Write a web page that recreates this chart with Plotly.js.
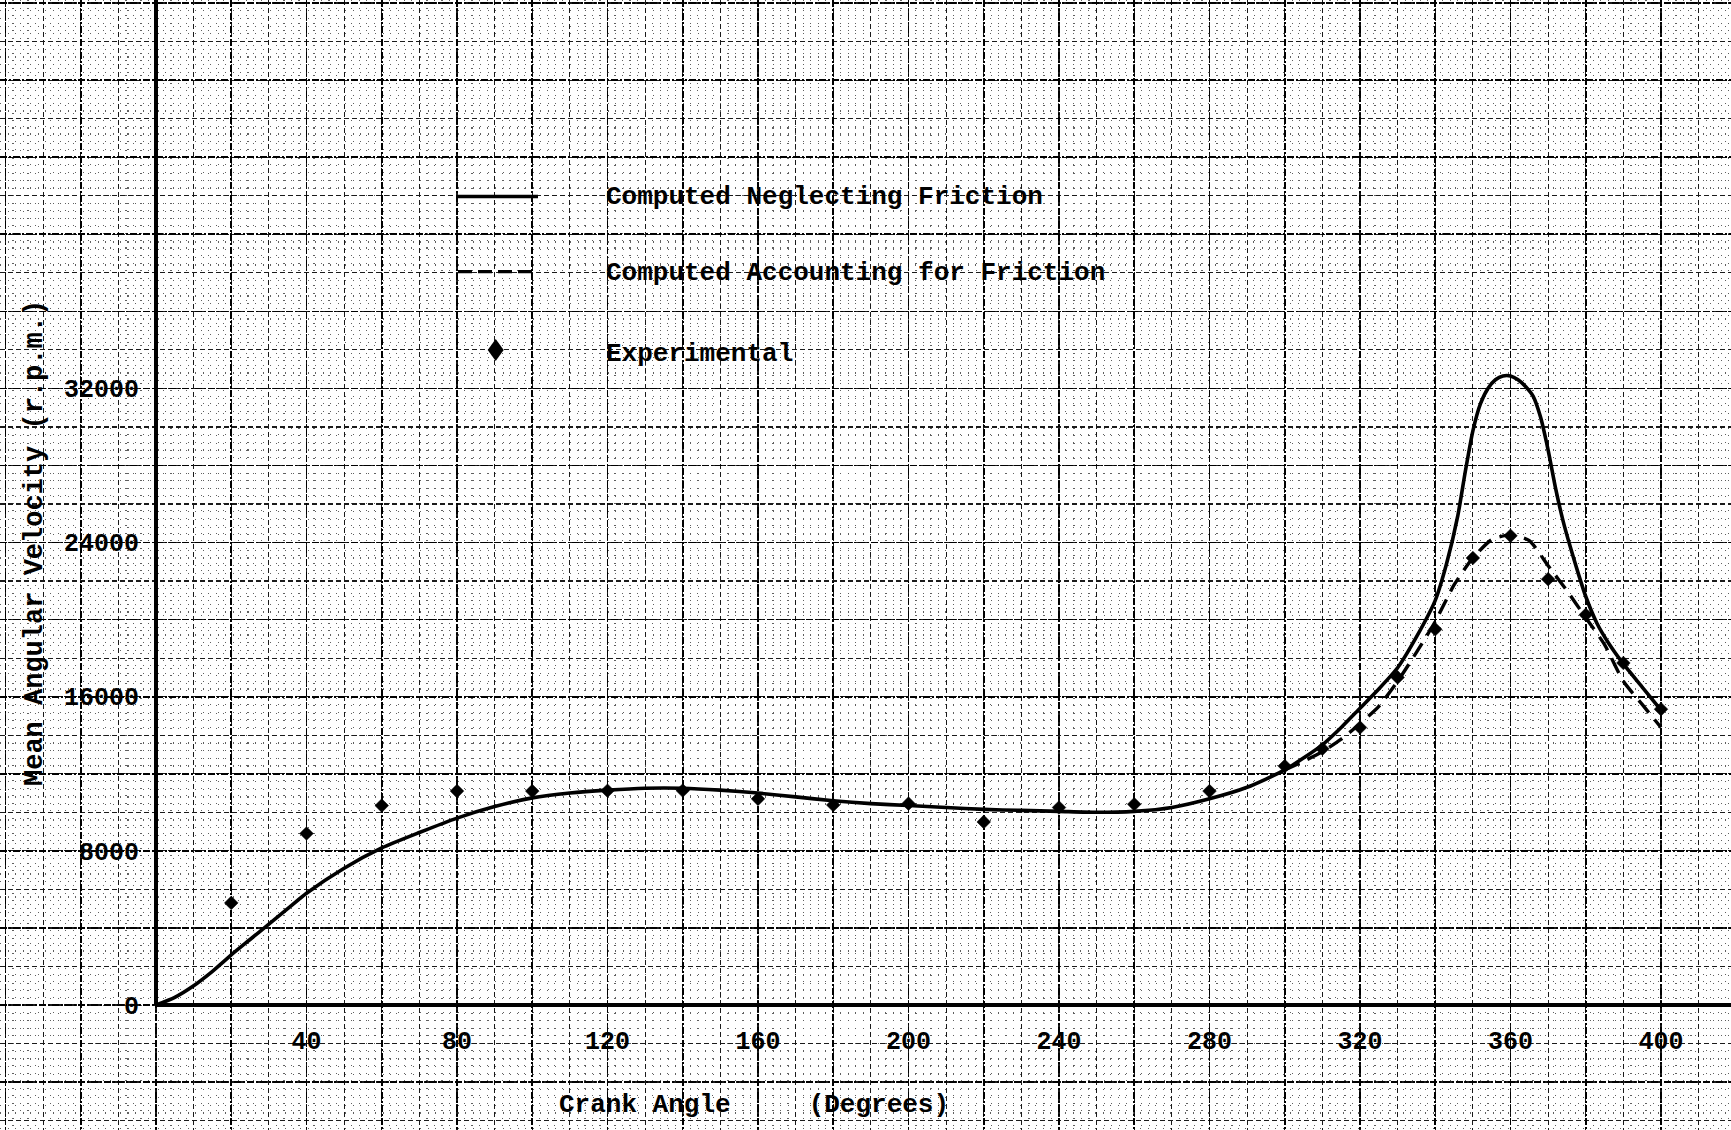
<!DOCTYPE html>
<html>
<head>
<meta charset="utf-8">
<script src="https://cdn.plot.ly/plotly-3.0.1.min.js"></script>
<style>
html,body{margin:0;padding:0;background:#ffffff;}
#chart{width:1731px;height:1130px;}
</style>
</head>
<body>
<div id="chart"></div>
<script>
// ---------------- DATA ----------------
const crankAngleNoFriction = [0,5,10,15,20,25,30,35,40,50,60,70,80,90,100,110,120,130,140,150,160,170,180,190,200,210,220,230,240,250,260,270,280,290,300,310,315,320,325,330,335,340,343,346,348,350,352,354,356,358,360,362,364,366,368,370,372,374,376,378,380,383,386,390,395,400];
const velocityNoFriction = [0,400,1000,1750,2600,3400,4200,5000,5800,7100,8150,8950,9700,10300,10750,11000,11150,11250,11250,11150,11000,10800,10600,10450,10350,10250,10150,10100,10050,10000,10050,10250,10700,11300,12200,13500,14400,15400,16400,17500,19100,21000,22900,25400,27700,29800,31200,32000,32450,32650,32650,32450,32100,31600,30500,28800,26800,25100,23700,22400,21200,19800,18800,17700,16500,15300];

const crankAngleFriction = [300,305,310,315,320,325,330,335,340,345,350,355,360,365,370,375,380,385,390,395,400];
const velocityFriction = [12200,12650,13150,13800,14600,15500,16800,18300,19900,21800,23200,24150,24400,24100,22800,21500,20100,18700,16800,15600,14400];

const crankAngleExperimental = [20,40,60,80,100,120,140,160,180,200,220,240,260,280,300,310,320,330,340,350,360,370,380,390,400];
const velocityExperimental = [5300,8900,10350,11100,11100,11120,11130,10700,10380,10450,9500,10250,10420,11100,12400,13300,14400,17000,19500,23200,24350,22100,20250,17750,15350];

const xTickValues = [40,80,120,160,200,240,280,320,360,400];
const xTickLabels = ['40','80','120','160','200','240','280','320','360','400'];
const yTickValues = [0,8000,16000,24000,32000];
const yTickLabels = ['0','8000','16000','24000','32000'];

const seriesNames = ['Computed Neglecting Friction','Computed Accounting for Friction','Experimental'];
const xTitleText = 'Crank Angle\u00a0\u00a0\u00a0\u00a0\u00a0(Degrees)';
const yTitleText = 'Mean Angular Velocity (r.p.m.)';

// ---------------- LAYOUT GEOMETRY ----------------
const W = 1731, H = 1130;
const X0PX = 156, X400PX = 1661;     // pixel of 0 deg and 400 deg
const Y0PX = 1005, Y32PX = 388.4;    // pixel of 0 rpm and 32000 rpm
const pxPerDeg = (X400PX - X0PX) / 400;
const pxPerRpm = (Y0PX - Y32PX) / 32000;
const xmin = -X0PX / pxPerDeg, xmax = (W - X0PX) / pxPerDeg;
const ymax = Y0PX / pxPerRpm, ymin = -(H - Y0PX) / pxPerRpm;
const px = v => v / W;
const py = v => 1 - v / H;

const FONT = 'Liberation Mono, Courier New, DejaVu Sans Mono, monospace';
const INK = '#000000';

// ---------------- TRACES ----------------
const traces = [
  {x: [], y: [], xaxis: 'x2', yaxis: 'y2', mode: 'markers', showlegend: false, hoverinfo: 'skip'},
  {x: [], y: [], xaxis: 'x3', yaxis: 'y3', mode: 'markers', showlegend: false, hoverinfo: 'skip'},
  {
    name: seriesNames[0], x: crankAngleNoFriction, y: velocityNoFriction,
    mode: 'lines', line: {color: INK, width: 3.6, shape: 'spline', smoothing: 0.6},
    showlegend: false
  },
  {
    name: seriesNames[1], x: crankAngleFriction, y: velocityFriction,
    mode: 'lines', line: {color: INK, width: 3.4, dash: '16px,9px', shape: 'spline', smoothing: 0.6},
    showlegend: false
  },
  {
    name: seriesNames[2], x: crankAngleExperimental, y: velocityExperimental,
    mode: 'markers', marker: {symbol: 'diamond', size: 10.5, color: INK, line: {width: 0.5, color: INK}},
    showlegend: false
  }
];

const gridMinor = {showgrid: true, gridcolor: '#606060', gridwidth: 1.2, griddash: '1.3px,6.2px', ticks: ''};

const layout = {
  width: W, height: H,
  margin: {l: 0, r: 0, t: 0, b: 0, pad: 0},
  paper_bgcolor: '#ffffff', plot_bgcolor: '#ffffff',
  showlegend: false,
  font: {family: FONT, color: INK, size: 25, weight: 'bold'},
  xaxis: {
    range: [xmin, xmax], anchor: 'free', position: (0 - ymin) / (ymax - ymin),
    tickmode: 'array', tickvals: xTickValues, ticktext: xTickLabels,
    ticks: 'outside', ticklen: 13, tickcolor: 'rgba(0,0,0,0)',
    tickfont: {family: FONT, size: 25, color: INK, weight: 'bold'},
    showgrid: false, zeroline: false, showline: false, fixedrange: true
  },
  yaxis: {
    range: [ymin, ymax], anchor: 'free', position: (0 - xmin) / (xmax - xmin),
    tickmode: 'array', tickvals: yTickValues, ticktext: yTickLabels,
    ticks: 'outside', ticklen: 12, tickcolor: 'rgba(0,0,0,0)',
    tickfont: {family: FONT, size: 25, color: INK, weight: 'bold'},
    showgrid: false, zeroline: false, showline: false, fixedrange: true
  },
  xaxis2: {
    overlaying: 'x', anchor: 'y2', range: [xmin, xmax], tick0: 0, dtick: 10,
    showgrid: true, gridcolor: '#1a1a1a', gridwidth: 1.2, griddash: '5px,3px',
    showticklabels: false, ticks: '', zeroline: false, showline: false,
    minor: Object.assign({tick0: 0, dtick: 2}, gridMinor)
  },
  yaxis2: {
    overlaying: 'y', anchor: 'x2', range: [ymin, ymax], tick0: 0, dtick: 2000,
    showgrid: true, gridcolor: '#1a1a1a', gridwidth: 1.2, griddash: '5px,3px',
    showticklabels: false, ticks: '', zeroline: false, showline: false,
    minor: Object.assign({tick0: 0, dtick: 400}, gridMinor)
  },
  xaxis3: {
    overlaying: 'x', anchor: 'y3', range: [xmin, xmax], tick0: 0, dtick: 20,
    showgrid: true, gridcolor: '#000000', gridwidth: 1.6, griddash: '7px,2px,2px,2px',
    showticklabels: false, ticks: '', zeroline: false, showline: false
  },
  yaxis3: {
    overlaying: 'y', anchor: 'x3', range: [ymin, ymax], tick0: 0, dtick: 4000,
    showgrid: true, gridcolor: '#000000', gridwidth: 1.6, griddash: '7px,2px,2px,2px',
    showticklabels: false, ticks: '', zeroline: false, showline: false
  },
  shapes: [
    // axis lines from the origin
    {type: 'line', xref: 'x', yref: 'y', x0: 0, x1: xmax + 10, y0: 0, y1: 0, line: {color: INK, width: 4}},
    {type: 'line', xref: 'x', yref: 'y', x0: 0, x1: 0, y0: 0, y1: ymax + 1000, line: {color: INK, width: 4}},
    // legend samples
    {type: 'line', xref: 'paper', yref: 'paper', x0: px(458), x1: px(538), y0: py(196.5), y1: py(196.5), line: {color: INK, width: 3.4}},
    {type: 'line', xref: 'paper', yref: 'paper', x0: px(458), x1: px(538), y0: py(271.6), y1: py(271.6), line: {color: INK, width: 3.2, dash: '14px,6px'}},
    {type: 'path', xref: 'paper', yref: 'paper', xsizemode: 'pixel', ysizemode: 'pixel',
     xanchor: px(495.7), yanchor: py(350), path: 'M 0 11 L 8 0 L 0 -11 L -8 0 Z',
     fillcolor: INK, line: {width: 0}}
  ],
  annotations: [
    {text: seriesNames[0], xref: 'paper', yref: 'paper', x: px(604), y: py(196.5), xanchor: 'left', yanchor: 'middle', showarrow: false, font: {family: FONT, size: 26, color: INK, weight: 'bold'}},
    {text: seriesNames[1], xref: 'paper', yref: 'paper', x: px(604), y: py(272.5), xanchor: 'left', yanchor: 'middle', showarrow: false, font: {family: FONT, size: 26, color: INK, weight: 'bold'}},
    {text: seriesNames[2], xref: 'paper', yref: 'paper', x: px(604), y: py(354), xanchor: 'left', yanchor: 'middle', showarrow: false, font: {family: FONT, size: 26, color: INK, weight: 'bold'}},
    {text: xTitleText, xref: 'paper', yref: 'paper', x: px(754), y: py(1105), xanchor: 'center', yanchor: 'middle', showarrow: false, font: {family: FONT, size: 26, color: INK, weight: 'bold'}},
    {text: yTitleText, xref: 'paper', yref: 'paper', x: px(35), y: py(543), xanchor: 'center', yanchor: 'middle', textangle: -90, showarrow: false, font: {family: FONT, size: 27, color: INK, weight: 'bold'}}
  ]
};

Plotly.newPlot('chart', traces, layout, {staticPlot: true, displayModeBar: false});
</script>
</body>
</html>
